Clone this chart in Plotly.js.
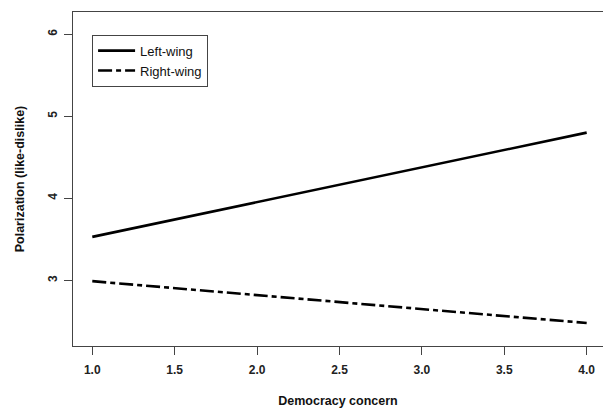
<!DOCTYPE html>
<html>
<head>
<meta charset="utf-8">
<script src="https://cdn.plot.ly/plotly-3.0.1.min.js"></script>
<style>
html, body { margin: 0; padding: 0; overflow: hidden; background: #fff; }
#chart { width: 603px; height: 410px; }
</style>
</head>
<body>
<div id="chart"></div>
<script>
// Data
const democracyConcern = [1.0, 4.0];
const leftWing = [3.53, 4.80];
const rightWing = [2.99, 2.48];
const seriesNames = ["Left-wing", "Right-wing"];
const xTickVals = [1.0, 1.5, 2.0, 2.5, 3.0, 3.5, 4.0];
const xTickText = ["1.0", "1.5", "2.0", "2.5", "3.0", "3.5", "4.0"];
const yTickVals = [3, 4, 5, 6];
const yTickText = ["3", "4", "5", "6"];

const traces = [
  {
    x: democracyConcern, y: leftWing, name: seriesNames[0],
    type: "scatter", mode: "lines",
    line: { color: "#000", width: 2.6 }
  },
  {
    x: democracyConcern, y: rightWing, name: seriesNames[1],
    type: "scatter", mode: "lines",
    line: { color: "#000", width: 2.6, dash: "14px,4px,5px,4px" }
  }
];

const tickFont = { family: "Liberation Sans, Arial, sans-serif", size: 12, color: "#222", weight: "bold" };
const titleFont = { family: "Liberation Sans, Arial, sans-serif", size: 12.5, color: "#111", weight: "bold" };

const layout = {
  width: 603, height: 410,
  margin: { l: 73, r: 0, t: 12, b: 64 },
  paper_bgcolor: "#fff", plot_bgcolor: "#fff",
  showlegend: true,
  legend: {
    x: 0.036, y: 0.932, xanchor: "left", yanchor: "top",
    bordercolor: "#444", borderwidth: 1, bgcolor: "#fff",
    font: { family: "Liberation Sans, Arial, sans-serif", size: 13, color: "#111" },
    itemwidth: 37,
    tracegroupgap: 0
  },
  xaxis: {
    range: [0.883, 4.099],
    tickmode: "array", tickvals: xTickVals, ticktext: xTickText,
    ticks: "outside", ticklen: 8, tickwidth: 1, tickcolor: "#444",
    showline: true, linecolor: "#444", linewidth: 1.2, mirror: true,
    showgrid: false, zeroline: false,
    tickfont: tickFont, ticklabelstandoff: 4,
    title: { text: "Democracy concern", font: titleFont, standoff: 20 }
  },
  yaxis: {
    range: [2.2, 6.27],
    tickmode: "array", tickvals: yTickVals, ticktext: yTickText,
    ticks: "outside", ticklen: 8, tickwidth: 1, tickcolor: "#444",
    showline: true, linecolor: "#444", linewidth: 1.2, mirror: false,
    showgrid: false, zeroline: false,
    tickangle: -90,
    tickfont: tickFont, ticklabelstandoff: 2,
    title: { text: "Polarization (like-dislike)", font: titleFont, standoff: 18 }
  }
};

Plotly.newPlot("chart", traces, layout, { displayModeBar: false, staticPlot: true });
</script>
</body>
</html>
